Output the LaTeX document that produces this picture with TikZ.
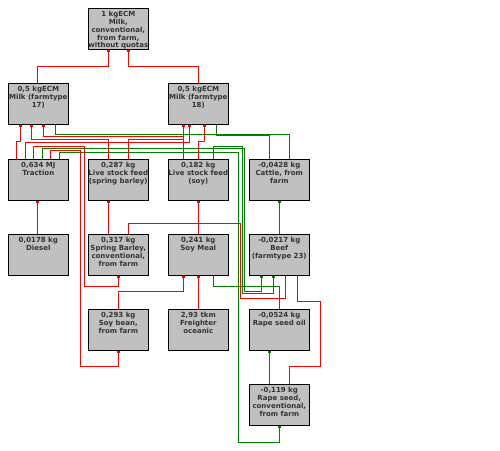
\documentclass[tikz,border=0pt]{standalone}
\usepackage{fontspec}
\setmainfont{DejaVu Sans}
\usetikzlibrary{calc,arrows.meta}
\definecolor{boxgray}{RGB}{192,192,192}
\definecolor{wred}{RGB}{255,0,0}
\definecolor{wgreen}{RGB}{0,128,0}
\newcommand\boxtext[1]{\parbox[c][41pt][t]{60pt}{\centering\rule{0pt}{8.6pt}#1\par}}
% wire: style, source node (top side), dx, level y, target node (bottom side), dx
\newcommand\wire[6]{%
  \path ($(#2.north)+(#3,0)$) coordinate (ws) ($(#5.south)+(#6,0)$) coordinate (wt) (0,#4) coordinate (wl);
  \draw[#1] (ws) -- (ws |- wl) -| (wt);}
\begin{document}
\begin{tikzpicture}[x=1pt,y=-1pt,
  box/.style={draw=black, line width=1pt, fill=boxgray, inner sep=0pt,
    minimum width=60pt, minimum height=41pt, text=black!80,
    font=\bfseries\fontsize{7}{7.75}\selectfont},
  rl/.style={draw=wred, line width=1pt},
  gl/.style={draw=wgreen, line width=1pt},
  arrowend/.style={-{Rectangle[length=2.5pt,width=3.5pt]}}]
\useasboundingbox (0,0) rectangle (500,450);
\fill[white] (0,0) rectangle (500,450);

\node[box] (top) at (118.3,28.8) {\boxtext{1 kgECM\\Milk,\\conventional,\\from farm,\\without quotas}};
\node[box] (m17) at (38.3,103.8) {\boxtext{0,5 kgECM\\Milk (farmtype\\17)}};
\node[box] (m18) at (198.3,103.8) {\boxtext{0,5 kgECM\\Milk (farmtype\\18)}};
\node[box] (trac) at (38.3,179.8) {\boxtext{0,634 MJ\\Traction}};
\node[box] (lsfb) at (118.3,179.8) {\boxtext{0,287 kg\\Live stock feed\\(spring barley)}};
\node[box] (lsfs) at (198.3,179.8) {\boxtext{0,182 kg\\Live stock feed\\(soy)}};
\node[box] (cattle) at (279.3,179.8) {\boxtext{-0,0428 kg\\Cattle, from\\farm}};
\node[box] (diesel) at (38.3,254.8) {\boxtext{0,0178 kg\\Diesel}};
\node[box] (sb) at (118.3,254.8) {\boxtext{0,317 kg\\Spring Barley,\\conventional,\\from farm}};
\node[box] (smeal) at (198.3,254.8) {\boxtext{0,241 kg\\Soy Meal}};
\node[box] (beef) at (279.3,254.8) {\boxtext{-0,0217 kg\\Beef\\(farmtype 23)}};
\node[box] (sbean) at (118.3,329.8) {\boxtext{0,293 kg\\Soy bean,\\from farm}};
\node[box] (frt) at (198.3,329.8) {\boxtext{2,93 tkm\\Freighter\\oceanic}};
\node[box] (rsoil) at (279.3,329.8) {\boxtext{-0,0524 kg\\Rape seed oil}};
\node[box] (rseed) at (279.3,404.8) {\boxtext{-0,119 kg\\Rape seed,\\conventional,\\from farm}};

% green (avoided products)
\wire{gl}{cattle}{10}{134}{m17}{16.7}
\wire{gl}{cattle}{-10}{135.7}{m18}{18.4}
\wire{gl,arrowend}{beef}{0}{220}{cattle}{0}
\wire{gl}{rsoil}{0}{286.7}{smeal}{15}
\wire{gl,arrowend}{rseed}{-10}{370}{rsoil}{-10}
\draw[gl,arrowend] ($(lsfs.north)+(15,0)$) |- (242.3,146.3) -- (242.3,293.3) -| ($(beef.south)+(-6,0)$);
\draw[gl,arrowend] ($(trac.north)+(4.4,0)$) |- (244.3,148.7) -- (244.3,291) -| ($(beef.south)+(-17.6,0)$);
\draw[gl,arrowend] ($(trac.north)+(21,0)$) |- (238.3,152.3) -- (238.3,442.3) -| (rseed.south);

% red
\wire{rl,arrowend}{m17}{-1}{66.7}{top}{-10}
\wire{rl,arrowend}{m18}{0}{66.7}{top}{10}
\wire{rl,arrowend}{trac}{-22.3}{141.3}{m17}{-17.6}
\wire{rl,arrowend}{lsfb}{-10}{139}{m17}{-6.6}
\wire{rl,arrowend}{lsfs}{-15}{136.7}{m17}{5}
\wire{rl,arrowend}{trac}{-13.3}{142.8}{m18}{-9}
\wire{rl,arrowend}{lsfb}{10}{139.5}{m18}{-15}
\wire{rl,arrowend}{lsfs}{0}{141.3}{m18}{6}
\wire{rl,arrowend}{diesel}{-1}{220}{trac}{-1}
\wire{rl,arrowend}{sb}{-10}{220}{lsfb}{-10}
\wire{rl,arrowend}{smeal}{0}{220}{lsfs}{0}
\wire{rl,arrowend}{sbean}{0}{291.3}{smeal}{-15}
\wire{rl,arrowend}{frt}{0}{300}{smeal}{0}
\draw[rl,arrowend] ($(trac.north)+(-5,0)$) |- (84.3,146.3) -- (84.3,286.7) -| (sb.south);
\draw[rl,arrowend] ($(trac.north)+(12.4,0)$) |- (80.7,150.3) -- (80.7,366.3) -| (sbean.south);
\draw[rl] ($(sb.north)+(10,0)$) |- (240,223.3) -- (240,298.3) -| ($(beef.south)+(6.4,0)$);
\draw[rl] ($(rseed.north)+(10,0)$) |- (320.3,366.3) -- (320.3,301.7) -| ($(beef.south)+(18,0)$);
\end{tikzpicture}
\end{document}
